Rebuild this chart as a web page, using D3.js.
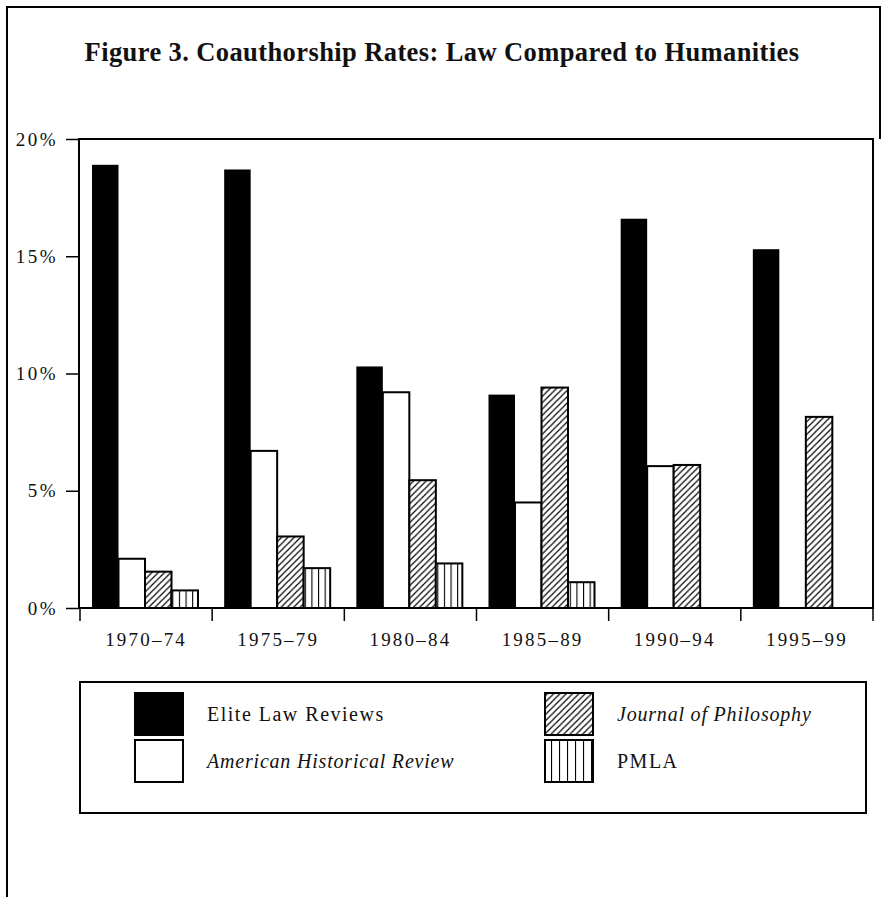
<!DOCTYPE html>
<html>
<head>
<meta charset="utf-8">
<script src="https://cdn.jsdelivr.net/npm/d3@7/dist/d3.min.js"></script>
<style>
  html, body { margin: 0; padding: 0; background: #fff; }
  svg { display: block; }
  text { font-family: "Liberation Serif", "DejaVu Serif", serif; fill: #111; }
</style>
</head>
<body>
<svg id="chart" width="883" height="897"></svg>
<script>
// ---- data ----
const categories = ["1970–74", "1975–79", "1980–84", "1985–89", "1990–94", "1995–99"];
const seriesNames = ["Elite Law Reviews", "American Historical Review", "Journal of Philosophy", "PMLA"];
const eliteLaw = [18.9, 18.7, 10.3, 9.1, 16.6, 15.3];
const americanHistorical = [2.1, 6.7, 9.2, 4.5, 6.05, null];
const journalPhilosophy = [1.55, 3.05, 5.45, 9.4, 6.1, 8.15];
const pmla = [0.75, 1.7, 1.9, 1.1, null, null];
const yTicks = [0, 5, 10, 15, 20];
const titleText = "Figure 3. Coauthorship Rates: Law Compared to Humanities";

const seriesValues = [eliteLaw, americanHistorical, journalPhilosophy, pmla];
const seriesFill = ["#000", "#fff", "url(#hatch)", "url(#vstripe)"];
const legendFill = ["#000", "#fff", "url(#hatchL)", "url(#vstripeL)"];
const italicSeries = [false, true, true, false];

(function () {
const svg = d3.select("#chart");

// ---- patterns ----
const defs = svg.append("defs");
function hatch(id, size) {
  const p = defs.append("pattern").attr("id", id).attr("patternUnits", "userSpaceOnUse")
    .attr("width", size).attr("height", size);
  p.append("rect").attr("width", size).attr("height", size).attr("fill", "#fff");
  p.append("path").attr("d", `M0,${size} L${size},0 M${-size/2},${size/2} L${size/2},${-size/2} M${size/2},${size*1.5} L${size*1.5},${size/2}`)
    .attr("stroke", "#000").attr("stroke-width", 1.2);
}
hatch("hatch", 6.3);
hatch("hatchL", 6.3);

const pLeft = 79, pRight = 873, pTop = 139, pBottom = 608;

const x = d3.scaleBand().domain(categories).range([80, 873]).paddingInner(0).paddingOuter(0);
const xs = d3.scaleBand().domain(seriesNames).range([12, 118]).padding(0);
const y = d3.scaleLinear().domain([0, 20]).range([pBottom, pTop]);

function vstripe(id, w, x0) {
  const p = defs.append("pattern").attr("id", id).attr("patternUnits", "userSpaceOnUse")
    .attr("width", w).attr("height", 10).attr("x", x0);
  p.append("rect").attr("width", w).attr("height", 10).attr("fill", "#fff");
  p.append("line").attr("x1", 0.5).attr("x2", 0.5).attr("y1", 0).attr("y2", 10)
    .attr("stroke", "#000").attr("stroke-width", 1.2);
}
vstripe("vstripe", xs.bandwidth() / 4, 0);
vstripe("vstripeL", 48 / 6, 135);

// ---- outer frame ----
svg.append("path").attr("d", "M7,897 L7,7 L880,7 L880,139")
  .attr("fill", "none").attr("stroke", "#000").attr("stroke-width", 2);

// ---- title ----
svg.append("text").attr("x", 442).attr("y", 61).attr("text-anchor", "middle")
  .attr("font-size", 26.5).attr("font-weight", "bold").attr("letter-spacing", 0.4)
  .text(titleText);

// ---- bars ----
const rows = [];
categories.forEach((c, i) => {
  seriesNames.forEach((s, j) => {
    const v = seriesValues[j][i];
    if (v !== null && v !== undefined) rows.push({ c, s, j, v });
  });
});
svg.append("g").selectAll("rect").data(rows).join("rect")
  .attr("x", d => x(d.c) + xs(d.s))
  .attr("y", d => y(d.v))
  .attr("width", xs.bandwidth())
  .attr("height", d => y(0) - y(d.v))
  .attr("fill", d => seriesFill[d.j])
  .attr("stroke", "#000")
  .attr("stroke-width", d => d.j === 0 ? 0 : 2);

// ---- plot frame ----
svg.append("rect").attr("x", pLeft).attr("y", pTop).attr("width", pRight - pLeft).attr("height", pBottom - pTop)
  .attr("fill", "none").attr("stroke", "#000").attr("stroke-width", 2);

// ---- y axis ----
const yAxis = svg.append("g").attr("transform", `translate(${pLeft},0)`)
  .call(d3.axisLeft(y).tickValues(yTicks).tickSize(13).tickPadding(8).tickFormat(d => d + "%"));
yAxis.select(".domain").remove();
yAxis.selectAll(".tick line").attr("stroke", "#000").attr("stroke-width", 1.5);
yAxis.selectAll(".tick text").attr("font-size", 19).attr("letter-spacing", 2.5)
  .attr("font-family", "Liberation Serif, serif").attr("fill", "#111");

// ---- x axis ----
const xAxis = svg.append("g").attr("transform", `translate(0,${pBottom})`)
  .call(d3.axisBottom(x).tickSize(0).tickPadding(25));
xAxis.select(".domain").remove();
xAxis.selectAll(".tick text").attr("font-size", 19).attr("letter-spacing", 2.2)
  .attr("font-family", "Liberation Serif, serif").attr("fill", "#111");
const bounds = categories.map(c => x(c)).concat([x(categories[categories.length - 1]) + x.bandwidth()]);
svg.append("g").selectAll("line").data(bounds).join("line")
  .attr("x1", d => d).attr("x2", d => d).attr("y1", pBottom).attr("y2", pBottom + 13)
  .attr("stroke", "#000").attr("stroke-width", 1.5);

// ---- legend ----
const lg = svg.append("g");
lg.append("rect").attr("x", 80).attr("y", 682).attr("width", 786).attr("height", 131)
  .attr("fill", "none").attr("stroke", "#000").attr("stroke-width", 2);
const legendPos = [[135, 693], [135, 740], [545, 693], [545, 740]];
seriesNames.forEach((s, j) => {
  const [lx, ly] = legendPos[j];
  lg.append("rect").attr("x", lx).attr("y", ly).attr("width", 48).attr("height", 42)
    .attr("fill", legendFill[j]).attr("stroke", "#000").attr("stroke-width", 2);
  lg.append("text").attr("x", lx + 72).attr("y", ly + 28)
    .attr("font-size", 20).attr("letter-spacing", italicSeries[j] ? 0.8 : 1.5)
    .attr("font-style", italicSeries[j] ? "italic" : "normal")
    .text(s);
});
})();
</script>
</body>
</html>
